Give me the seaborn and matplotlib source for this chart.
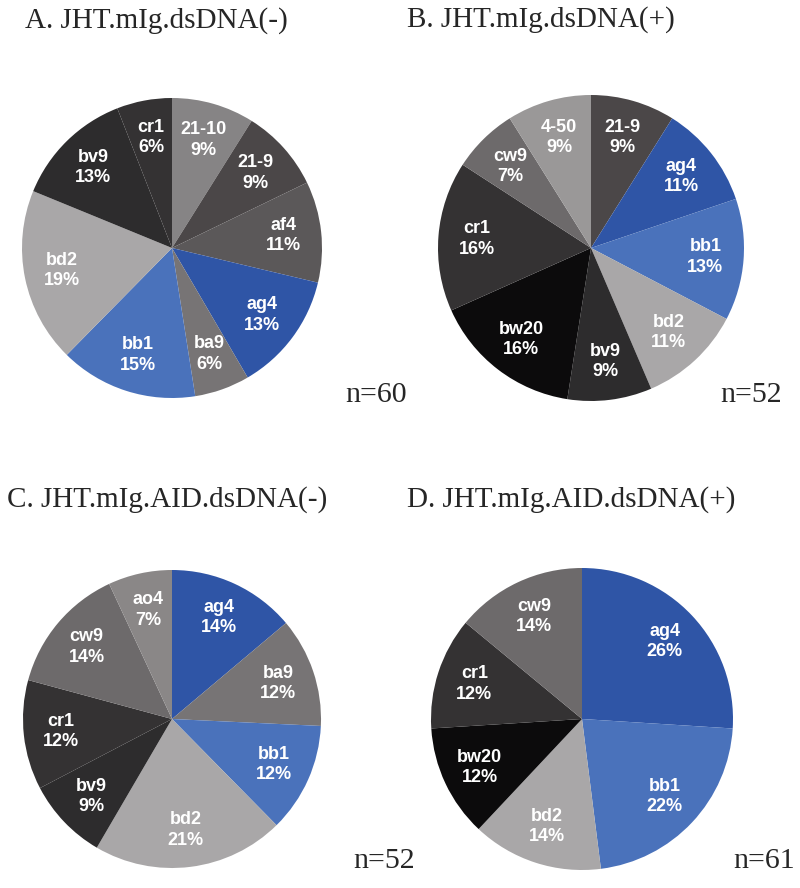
import matplotlib
matplotlib.use("Agg")
import matplotlib.pyplot as plt
import seaborn as sns

sns.set_style("white")
plt.rcParams['font.family'] = ['Liberation Serif', 'DejaVu Serif']

# colours per clone, same in all four pies
CLONE_COLORS = {
    "21-10": "#868485",
    "21-9": "#4b4748",
    "af4": "#5b5859",
    "ag4": "#2f55a6",
    "ba9": "#777475",
    "bb1": "#4a72bb",
    "bd2": "#a9a7a8",
    "bv9": "#2d2c2d",
    "cr1": "#343233",
    "bw20": "#0c0b0c",
    "cw9": "#6d6a6b",
    "4-50": "#9a9898",
    "ao4": "#8a8787",
}

# ===== DATA (percent of clones) =====
a_labels = ["21-10", "21-9", "af4", "ag4", "ba9", "bb1", "bd2", "bv9", "cr1"]
a_values = [9, 9, 11, 13, 6, 15, 19, 13, 6]

b_labels = ["21-9", "ag4", "bb1", "bd2", "bv9", "bw20", "cr1", "cw9", "4-50"]
b_values = [9, 11, 13, 11, 9, 16, 16, 7, 9]

c_labels = ["ag4", "ba9", "bb1", "bd2", "bv9", "cr1", "cw9", "ao4"]
c_values = [14, 12, 12, 21, 9, 12, 14, 7]

d_labels = ["ag4", "bb1", "bd2", "bw20", "cr1", "cw9"]
d_values = [26, 22, 14, 12, 12, 14]

titles = ["A. JHT.mIg.dsDNA(-)", "B. JHT.mIg.dsDNA(+)",
          "C. JHT.mIg.AID.dsDNA(-)", "D. JHT.mIg.AID.dsDNA(+)"]
n_labels = ["n=60", "n=52", "n=52", "n=61"]

W, H = 800, 888
fig = plt.figure(figsize=(W / 100, H / 100), dpi=100)


def pie_axes(cx, cy, r):
    # axes square in pixels, centred on (cx, cy) measured from top-left
    ax = fig.add_axes([(cx - r) / W, (H - cy - r) / H, 2 * r / W, 2 * r / H])
    return ax


def draw_pie(ax, labels, values):
    texts_in = [f"{l}\n{v}%" for l, v in zip(labels, values)]
    wedges, texts = ax.pie(values, labels=texts_in, colors=[CLONE_COLORS[l] for l in labels],
                           startangle=90, counterclock=False, radius=1, labeldistance=0.75,
                           wedgeprops=dict(linewidth=0))
    for t in texts:
        t.set_ha("center")
        t.set_va("center")
        t.set_color("white")
        t.set_fontweight("bold")
        t.set_fontsize(13)
        t.set_family(["Liberation Sans", "DejaVu Sans"])
        t.set_linespacing(1.25)
    # pie() resets the limits, so set them afterwards
    ax.set_xlim(-1, 1)
    ax.set_ylim(-1, 1)
    ax.set_aspect("equal")
    ax.axis("off")


# pie centres and radii in pixels
layout = [(172, 248, 150), (591, 248, 153), (172, 719, 149), (582, 719, 151)]
all_labels = [a_labels, b_labels, c_labels, d_labels]
all_values = [a_values, b_values, c_values, d_values]

for (cx, cy, r), labs, vals in zip(layout, all_labels, all_values):
    draw_pie(pie_axes(cx, cy, r), labs, vals)

# titles
title_pos = [(25, 28), (407, 27), (7, 507), (407, 507)]
for (x, y), t in zip(title_pos, titles):
    fig.text(x / W, 1 - y / H, t, fontsize=21, ha="left", va="baseline")

# sample sizes
n_pos = [(345, 402), (720, 402), (353, 868), (733, 868)]
for (x, y), t in zip(n_pos, n_labels):
    fig.text(x / W, 1 - y / H, t, fontsize=21.5, ha="left", va="baseline")

fig.savefig("out.png", dpi=100, facecolor="white")
